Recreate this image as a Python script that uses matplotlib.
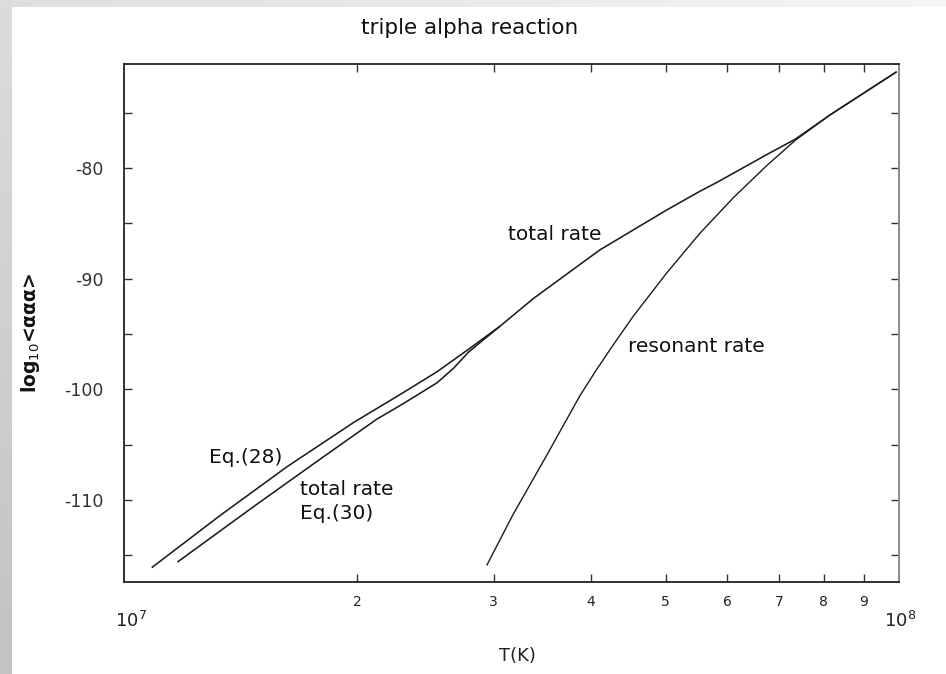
import numpy as np
import matplotlib
matplotlib.use("Agg")
import matplotlib.pyplot as plt

# Temperatures (K) and log10 of the triple-alpha rate for each curve
T_eq28 = [1.086e7, 1.330e7, 1.622e7, 1.977e7, 2.291e7, 2.535e7, 2.767e7, 3.055e7]
rate_eq28 = [-116.1, -111.4, -107.0, -103.0, -100.3, -98.4, -96.5, -94.3]

T_total = [1.172e7, 1.469e7, 1.791e7, 2.118e7, 2.291e7, 2.535e7, 2.661e7, 2.786e7,
           3.055e7, 3.373e7, 4.111e7, 5.012e7, 5.534e7, 5.821e7, 6.745e7, 7.345e7,
           8.147e7, 9.931e7]
rate_total = [-115.6, -110.6, -106.3, -102.7, -101.3, -99.4, -98.1, -96.6,
              -94.3, -91.8, -87.4, -83.8, -82.1, -81.3, -78.8, -77.4,
              -75.2, -71.3]

T_res = [2.938e7, 3.177e7, 3.508e7, 3.873e7, 4.055e7, 4.276e7, 4.539e7, 5.012e7,
         5.534e7, 6.109e7, 6.745e7, 7.345e7, 8.147e7, 9.931e7]
rate_res = [-115.9, -111.3, -106.0, -100.6, -98.4, -96.0, -93.4, -89.5,
            -85.9, -82.7, -79.8, -77.5, -75.2, -71.3]

x_ticks = [2e7, 3e7, 4e7, 5e7, 6e7, 7e7, 8e7, 9e7]
x_ticklabels = ["2", "3", "4", "5", "6", "7", "8", "9"]
y_major = [-80, -90, -100, -110]
y_ticklabels = ["-80", "-90", "-100", "-110"]
y_minor = [-75, -85, -95, -105, -115]

W, H = 946, 674
fig = plt.figure(figsize=(W / 100, H / 100), dpi=100)
fig.patch.set_facecolor("white")

# grey page edges
edge_l = fig.add_axes([0, 0, 11 / W, 1])
edge_l.imshow(np.linspace(0.86, 0.76, 100)[:, None], cmap="gray", vmin=0, vmax=1,
              aspect="auto", extent=[0, 1, 0, 1])
edge_l.axis("off")
edge_t = fig.add_axes([11 / W, 1 - 7 / H, 1 - 11 / W, 7 / H])
edge_t.imshow(np.linspace(0.87, 0.96, 100)[None, :], cmap="gray", vmin=0, vmax=1,
              aspect="auto", extent=[0, 1, 0, 1])
edge_t.axis("off")

ax = fig.add_axes([124 / W, 1 - 582 / H, 775 / W, 518 / H])
ax.set_xscale("log")
ax.set_xlim(1e7, 1e8)
ax.set_ylim(-117.4, -70.6)

lc = "#1c1c1c"
ax.plot(T_eq28, rate_eq28, color=lc, lw=1.15, solid_capstyle="butt")
ax.plot(T_total, rate_total, color=lc, lw=1.15, solid_capstyle="butt")
ax.plot(T_res, rate_res, color=lc, lw=1.0, solid_capstyle="butt")

# axes frame and ticks
for s in ["left", "top", "bottom"]:
    ax.spines[s].set_color("#222222")
    ax.spines[s].set_linewidth(1.3)
ax.spines["right"].set_color("#8a8a8a")
ax.spines["right"].set_linewidth(1.4)

ax.set_xticks(x_ticks)
ax.set_xticklabels(x_ticklabels)
ax.xaxis.set_minor_locator(matplotlib.ticker.NullLocator())
ax.set_yticks(y_major)
ax.set_yticklabels(y_ticklabels)
ax.set_yticks(y_minor, minor=True)
ax.tick_params(axis="both", which="both", direction="in", top=True, right=True,
               length=6, width=1.0, color="#333333")
ax.tick_params(axis="x", labelsize=10, pad=9, labelcolor="#222222")
ax.tick_params(axis="y", labelsize=12.5, pad=15, labelcolor="#333333")

# decade labels at the ends of the x axis
fig.text(131 / W, 1 - 621 / H, "$10^7$", ha="center", va="center", fontsize=13,
         color="#222222")
fig.text(900 / W, 1 - 621 / H, "$10^8$", ha="center", va="center", fontsize=13,
         color="#222222")

fig.text(517 / W, 1 - 656 / H, "T(K)", ha="center", va="center", fontsize=13,
         color="#222222")
fig.text(30 / W, 1 - 333 / H, r"log$_{10}$<ααα>", rotation=90, ha="center",
         va="center", fontsize=13.5, fontweight="bold", color="#111111")
fig.text(470 / W, 1 - 28 / H, "triple alpha reaction", ha="center", va="center",
         fontsize=15.5, color="#111111")

# curve labels
lab = dict(fontsize=14.5, color="#111111", va="baseline", ha="left")
ax.text(3.13e7, -86.5, "total rate", **lab)
ax.text(4.47e7, -96.6, "resonant rate", **lab)
ax.text(1.288e7, -106.65, "Eq.(28)", **lab)
ax.text(1.687e7, -109.55, "total rate", **lab)
ax.text(1.687e7, -111.75, "Eq.(30)", **lab)

fig.savefig("out.png", dpi=100, facecolor="white")
